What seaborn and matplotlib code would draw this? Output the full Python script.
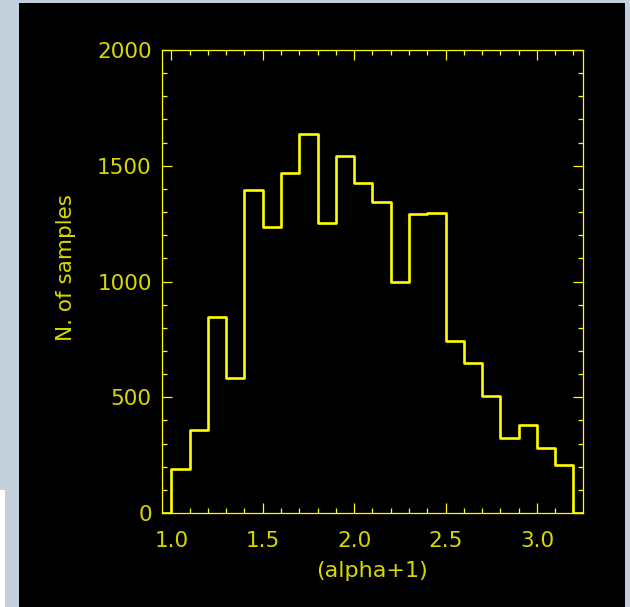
import numpy as np
import pandas as pd
import matplotlib
matplotlib.use("Agg")
import matplotlib.pyplot as plt
from matplotlib.patches import Rectangle
from matplotlib.ticker import MultipleLocator
import seaborn as sns

# ---- data ----
bin_left = [0.9, 1.0, 1.1, 1.2, 1.3, 1.4, 1.5, 1.6, 1.7, 1.8, 1.9, 2.0,
            2.1, 2.2, 2.3, 2.4, 2.5, 2.6, 2.7, 2.8, 2.9, 3.0, 3.1, 3.2]
counts = [0, 190, 358, 848, 583, 1395, 1237, 1467, 1636, 1251, 1543, 1427,
          1345, 996, 1290, 1295, 742, 647, 507, 323, 380, 282, 206, 0]
bin_width = 0.1
x_label = "(alpha+1)"
y_label = "N. of samples"

df = pd.DataFrame({"x": np.array(bin_left) + bin_width / 2, "n": counts})
edges = list(bin_left) + [bin_left[-1] + bin_width]

sns.set_style("ticks")
plt.rcParams['font.family'] = ['DejaVu Sans']

YEL = "#ffff00"
LBL = "#d8d800"

fig = plt.figure(figsize=(6.3, 6.07), dpi=100)
fig.patch.set_facecolor("#c3cfdb")
W, H = 630, 607
fig.add_artist(Rectangle((19 / W, 0), (625 - 19) / W, (607 - 3) / H,
                         transform=fig.transFigure, facecolor="black",
                         edgecolor="none", zorder=0))
fig.add_artist(Rectangle((0, 0), 5 / W, (607 - 490) / H,
                         transform=fig.transFigure, facecolor="white",
                         edgecolor="none", zorder=0))

ax = fig.add_axes([161.5 / W, (607 - 513) / H, (583 - 161.5) / W, (513 - 50) / H])
ax.set_facecolor("black")

sns.histplot(data=df, x="x", weights="n", bins=edges, element="step",
             fill=False, color=YEL, linewidth=1.9, ax=ax)

ax.set_xlim(0.946, 3.252)
ax.set_ylim(0, 2000)
ax.xaxis.set_major_locator(MultipleLocator(0.5))
ax.xaxis.set_minor_locator(MultipleLocator(0.1))
ax.yaxis.set_major_locator(MultipleLocator(500))
ax.yaxis.set_minor_locator(MultipleLocator(100))
ax.set_xticks([1.0, 1.5, 2.0, 2.5, 3.0])
ax.set_xticklabels(["1.0", "1.5", "2.0", "2.5", "3.0"])
ax.set_yticks([0, 500, 1000, 1500, 2000])
ax.set_yticklabels(["0", "500", "1000", "1500", "2000"])

for s in ax.spines.values():
    s.set_color(YEL)
    s.set_linewidth(0.9)
    s.set_visible(True)

ax.tick_params(which="both", direction="in", top=True, right=True,
               color=YEL, width=0.9, labelcolor=LBL, labelsize=15.5)
ax.tick_params(which="major", length=7.5)
ax.tick_params(which="minor", length=3.8)
ax.tick_params(axis="x", which="major", pad=13)
ax.tick_params(axis="y", which="major", pad=7)

ax.set_xlabel(x_label, color=LBL, fontsize=16, labelpad=7)
ax.set_ylabel(y_label, color=LBL, fontsize=15.5, labelpad=20)
ax.yaxis.set_label_coords(-0.202, 0.53)

fig.savefig("out.png", dpi=100, facecolor=fig.get_facecolor())
